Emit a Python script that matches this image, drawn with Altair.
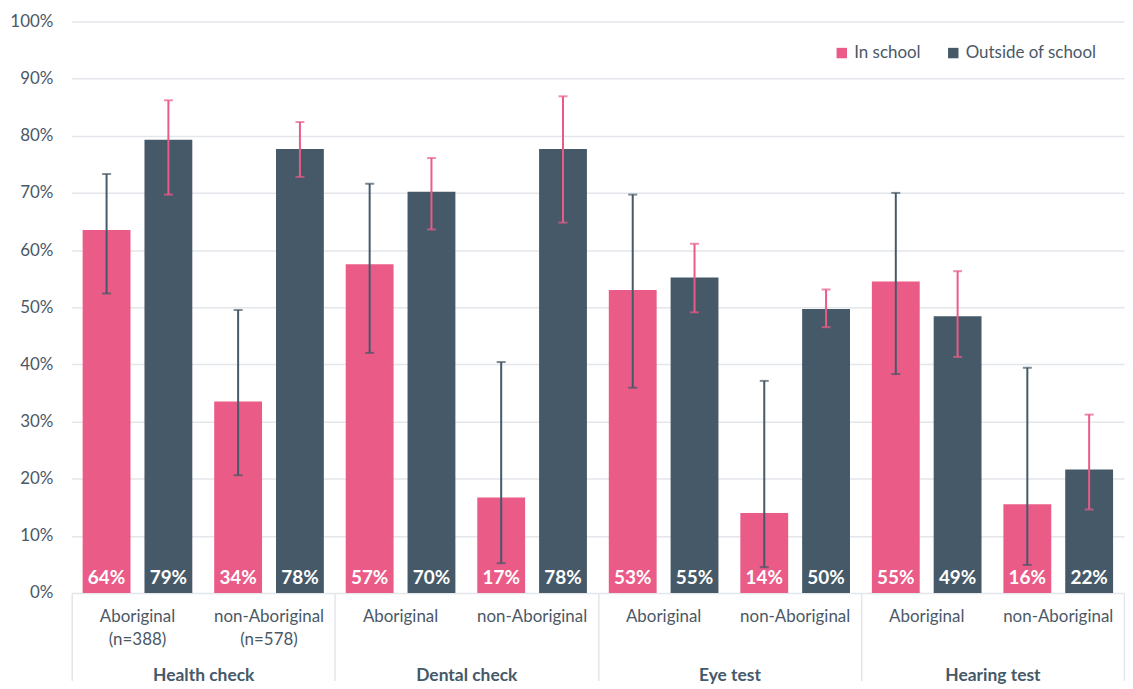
import altair as alt
import pandas as pd

groups = ["Health check", "Dental check", "Eye test", "Hearing test"]
subgroups = ["Aboriginal", "non-Aboriginal"]
sample_notes = {"Health check": ["(n=388)", "(n=578)"]}
series = ["In school", "Outside of school"]

in_school = [63.5, 33.5, 57.5, 16.7, 53.0, 14.0, 54.5, 15.5]
in_school_low = [52.4, 20.6, 42.0, 5.2, 35.9, 4.5, 38.3, 4.9]
in_school_high = [73.3, 49.5, 71.6, 40.4, 69.7, 37.1, 70.0, 39.4]
in_school_labels = ["64%", "34%", "57%", "17%", "53%", "14%", "55%", "16%"]

outside = [79.3, 77.7, 70.2, 77.7, 55.2, 49.7, 48.4, 21.6]
outside_low = [69.7, 72.8, 63.6, 64.8, 49.1, 46.5, 41.3, 14.6]
outside_high = [86.2, 82.4, 76.1, 86.9, 61.1, 53.1, 56.3, 31.2]
outside_labels = ["79%", "78%", "70%", "78%", "55%", "50%", "49%", "22%"]

PINK = "#EA5B87"
DARK = "#455968"
TEXT = "#4A5866"
GRID = "#E3E6EA"
FONT = "Lato"

keys = []
rows = []
i = 0
for g in groups:
    notes = sample_notes.get(g, ["", ""])
    for s, note in zip(subgroups, notes):
        key = f"{g}|{s}|{note}"
        keys.append(key)
        rows.append(dict(key=key, group=g, series=series[0], value=in_school[i],
                         lo=in_school_low[i], hi=in_school_high[i], label=in_school_labels[i]))
        rows.append(dict(key=key, group=g, series=series[1], value=outside[i],
                         lo=outside_low[i], hi=outside_high[i], label=outside_labels[i]))
        i += 1
df = pd.DataFrame(rows)

x_sub = alt.X(
    "key:N", sort=keys,
    scale=alt.Scale(paddingInner=0, paddingOuter=0),
    axis=alt.Axis(title=None, orient="bottom", domain=False, ticks=False, labelAngle=0,
                  labelExpr="[split(datum.label,'|')[1], split(datum.label,'|')[2]]",
                  labelPadding=16, labelLineHeight=23, labelFontSize=17,
                  labelColor=TEXT, labelBaseline="top", labelOverlap=False),
)
xoff = alt.XOffset("series:N", sort=series,
                   scale=alt.Scale(paddingInner=0.226, paddingOuter=0.177))
y = alt.Y(
    "value:Q",
    scale=alt.Scale(domain=[0, 100], nice=False),
    axis=alt.Axis(title=None, values=list(range(0, 101, 10)), labelExpr="datum.value + '%'",
                  domain=False, ticks=False, labelPadding=19, gridColor=GRID, gridWidth=1.5,
                  labelFontSize=17, labelColor=TEXT),
)

base = alt.Chart(df)

bars = base.mark_bar().encode(
    x=x_sub, xOffset=xoff, y=y,
    color=alt.Color("series:N", sort=series,
                    scale=alt.Scale(domain=series, range=[PINK, DARK]),
                    legend=alt.Legend(title=None, orient="none", legendX=765, legendY=23,
                                      direction="horizontal", symbolType="square",
                                      symbolSize=110, symbolStrokeWidth=0,
                                      labelFontSize=17, labelColor=TEXT,
                                      columnPadding=24, labelOffset=4)),
)

err_color = alt.Color("series:N", sort=series,
                      scale=alt.Scale(domain=series, range=[DARK, PINK]), legend=None)
rules = base.mark_rule(strokeWidth=2).encode(
    x=x_sub, xOffset=xoff, y=alt.Y("lo:Q"), y2="hi:Q", color=err_color)
cap_lo = base.mark_tick(size=9, thickness=2).encode(
    x=x_sub, xOffset=xoff, y=alt.Y("lo:Q"), color=err_color)
cap_hi = base.mark_tick(size=9, thickness=2).encode(
    x=x_sub, xOffset=xoff, y=alt.Y("hi:Q"), color=err_color)
errors = alt.layer(rules, cap_lo, cap_hi)

labels = base.mark_text(baseline="bottom", dy=-5, color="white", fontWeight="bold",
                        fontSize=19).encode(
    x=x_sub, xOffset=xoff, y=alt.datum(0), text="label:N")

inner = alt.layer(bars, errors, labels).resolve_scale(color="independent")

group_layer = alt.Chart(pd.DataFrame({"group": groups})).mark_tick(opacity=0).encode(
    x=alt.X("group:N", sort=groups, scale=alt.Scale(paddingInner=0, paddingOuter=0),
            axis=alt.Axis(title=None, orient="bottom", domain=False, ticks=True,
                          tickBand="extent", tickSize=88, tickColor=GRID, tickWidth=1.5,
                          labelAngle=0, labelPadding=-14, labelFontSize=17.5,
                          labelFontWeight="bold", labelColor=DARK, labelBaseline="top"))
)

chart = alt.layer(inner, group_layer).resolve_scale(x="independent").properties(
    width=1057, height=574,
    padding={"left": 1, "top": 3, "right": 0, "bottom": 0},
).configure(font=FONT).configure_view(stroke=None)

chart.save("out.html", embed_options={"renderer": "svg", "actions": False})
